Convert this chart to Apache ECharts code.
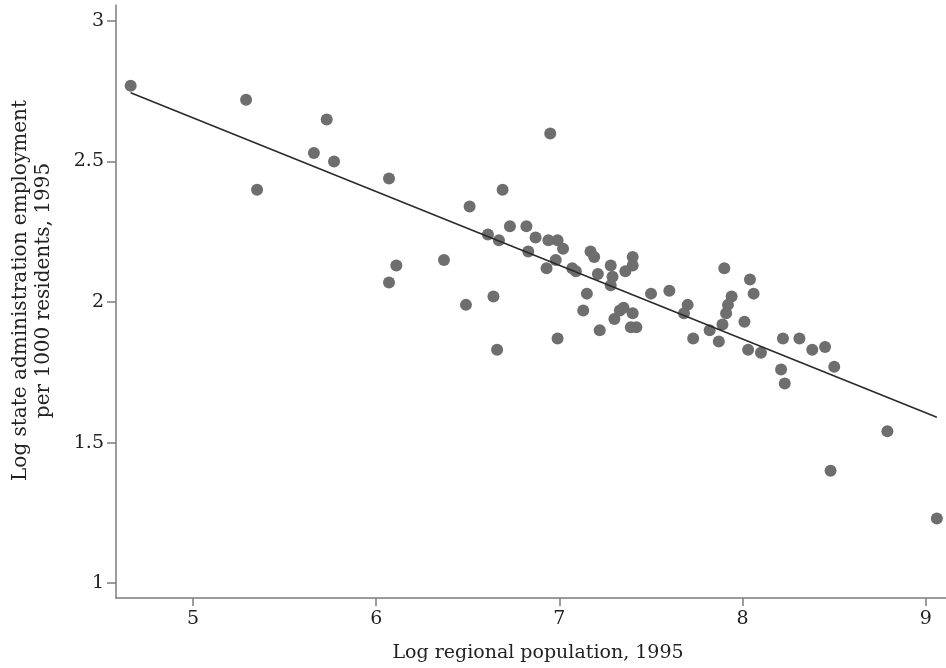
<!DOCTYPE html>
<html>
<head>
<meta charset="utf-8">
<script src="https://cdn.jsdelivr.net/npm/echarts@6/dist/echarts.min.js"></script>
<style>
  html, body { margin: 0; padding: 0; background: #ffffff; }
  #chart { width: 946px; height: 668px; }
</style>
</head>
<body>
<div id="chart"></div>
<script>
// log regional population, 1995
const popX = [
  4.66, 5.29, 5.73, 5.66, 5.77, 5.35, 6.07, 6.11, 6.07, 6.37,
  6.49, 6.64, 6.66, 6.51, 6.69, 6.95, 6.73, 6.82, 6.61, 6.67,
  6.87, 6.94, 6.99, 7.02, 6.83, 6.98, 6.93, 7.07, 7.09, 6.99,
  7.17, 7.19, 7.21, 7.28, 7.29, 7.28, 7.40, 7.40, 7.36, 7.15,
  7.50, 7.60, 7.13, 7.35, 7.33, 7.30, 7.40, 7.39, 7.42, 7.22,
  7.90, 8.04, 8.06, 7.94, 7.92, 7.91, 7.89, 7.70, 7.68, 7.82,
  8.01, 7.73, 7.87, 8.03, 8.10, 8.22, 8.31, 8.38, 8.45, 8.50,
  8.21, 8.23, 8.79, 8.48, 9.06
]
// log state administration employment per 1000 residents, 1995
const employY = [
  2.77, 2.72, 2.65, 2.53, 2.50, 2.40, 2.44, 2.13, 2.07, 2.15,
  1.99, 2.02, 1.83, 2.34, 2.40, 2.60, 2.27, 2.27, 2.24, 2.22,
  2.23, 2.22, 2.22, 2.19, 2.18, 2.15, 2.12, 2.12, 2.11, 1.87,
  2.18, 2.16, 2.10, 2.13, 2.09, 2.06, 2.16, 2.13, 2.11, 2.03,
  2.03, 2.04, 1.97, 1.98, 1.97, 1.94, 1.96, 1.91, 1.91, 1.90,
  2.12, 2.08, 2.03, 2.02, 1.99, 1.96, 1.92, 1.99, 1.96, 1.90,
  1.93, 1.87, 1.86, 1.83, 1.82, 1.87, 1.87, 1.83, 1.84, 1.77,
  1.76, 1.71, 1.54, 1.40, 1.23
]
// fitted line end points
const fitX = [4.66, 9.06]
const fitY = [2.745, 1.59]

const xTicks = [5, 6, 7, 8, 9]
const yTicks = [1, 1.5, 2, 2.5, 3]

const serif = 'DejaVu Serif'
const axisGrey = '#7c7c7c'

const chart = echarts.init(document.getElementById('chart'))
chart.setOption({
  animation: false,
  backgroundColor: '#ffffff',
  grid: { left: 116, right: 0, top: 5, bottom: 70, outerBoundsMode: 'none' },
  xAxis: {
    type: 'value',
    min: 4.58,
    max: 9.11,
    name: 'Log regional population, 1995',
    nameLocation: 'middle',
    nameGap: 46,
    nameTextStyle: { fontFamily: serif, fontSize: 19, color: '#222', padding: [0, 0, 0, 14] },
    splitLine: { show: false },
    axisLine: { show: true, onZero: false, lineStyle: { color: axisGrey, width: 1.5 } },
    axisTick: { show: true, customValues: xTicks, length: 8, lineStyle: { color: axisGrey, width: 1.5 } },
    axisLabel: { customValues: xTicks, margin: 12, fontFamily: serif, fontSize: 19, color: '#222' }
  },
  yAxis: {
    type: 'value',
    min: 0.947,
    max: 3.057,
    name: 'Log state administration employment\nper 1000 residents, 1995',
    nameLocation: 'middle',
    nameRotate: 90,
    nameGap: 61,
    nameTextStyle: { fontFamily: serif, fontSize: 20, color: '#222', lineHeight: 23, padding: [0, 0, 0, 22] },
    splitLine: { show: false },
    axisLine: { show: true, onZero: false, lineStyle: { color: axisGrey, width: 1.5 } },
    axisTick: { show: true, customValues: yTicks, length: 9, lineStyle: { color: axisGrey, width: 1.5 } },
    axisLabel: { customValues: yTicks, margin: 12, fontFamily: serif, fontSize: 19, color: '#222' }
  },
  series: [
    {
      type: 'scatter',
      symbol: 'circle',
      symbolSize: 12,
      itemStyle: { color: '#6e6e6e', opacity: 1 },
      data: popX.map((x, i) => [x, employY[i]]),
      z: 2
    },
    {
      type: 'line',
      symbol: 'none',
      lineStyle: { color: '#2a2a2a', width: 1.6 },
      data: fitX.map((x, i) => [x, fitY[i]]),
      z: 3
    }
  ]
})
</script>
</body>
</html>
